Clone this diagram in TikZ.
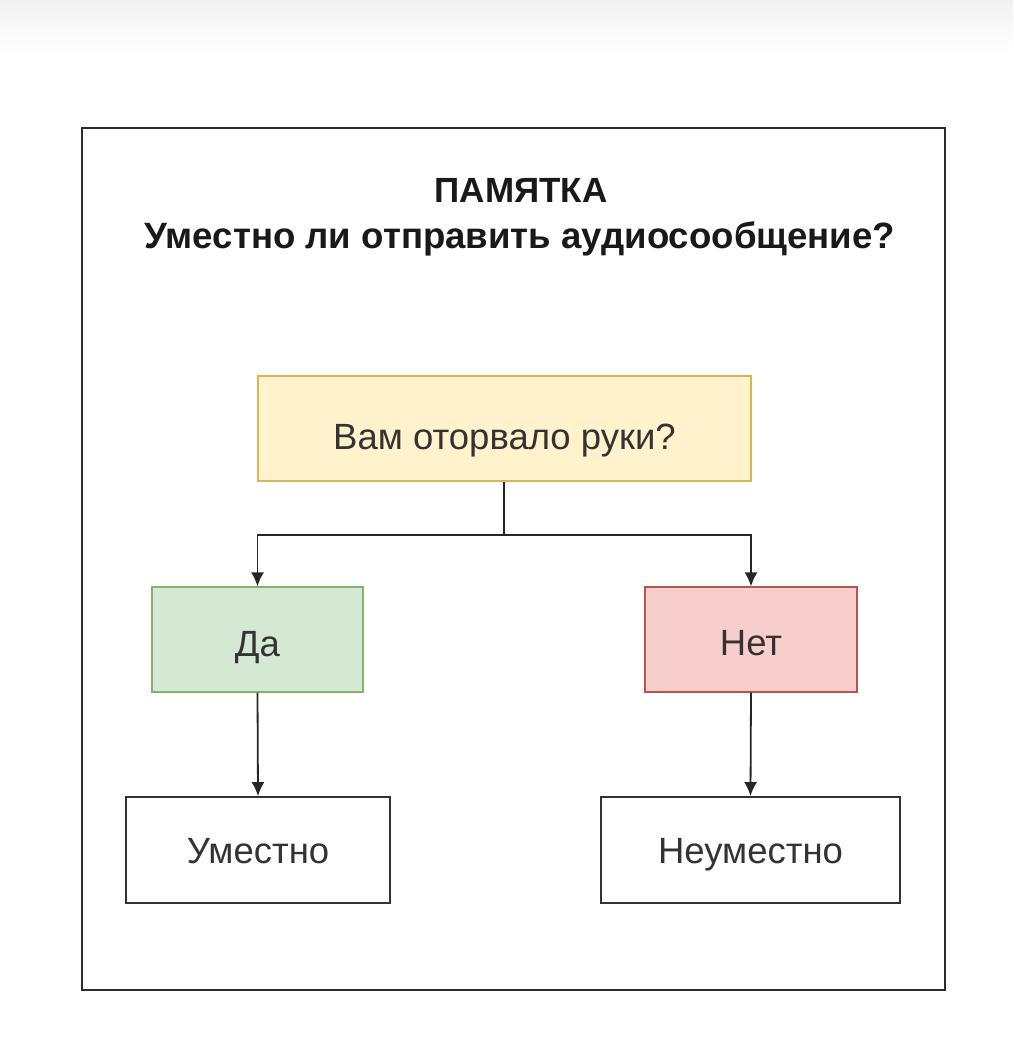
\documentclass[tikz,border=0pt]{standalone}
\usepackage{fontspec}
\setmainfont{Liberation Sans}
\usetikzlibrary{arrows.meta}
\definecolor{yfill}{HTML}{FFF2CC}
\definecolor{ydraw}{HTML}{D6B656}
\definecolor{gfill}{HTML}{D5E8D4}
\definecolor{gdraw}{HTML}{82B366}
\definecolor{rfill}{HTML}{F8CECC}
\definecolor{rdraw}{HTML}{B85450}
\definecolor{txt}{HTML}{333333}
\definecolor{frame}{HTML}{2B2B2B}
\tikzset{
  box/.style={rectangle, minimum height=105pt, inner sep=0pt, text=txt,
    font=\fontsize{36.5}{44}\selectfont, text height=26pt, text depth=0pt},
  ybox/.style={box, fill=yfill, draw=ydraw, line width=1.2pt, text height=42pt},
  gbox/.style={box, fill=gfill, draw=gdraw, line width=1.2pt, text height=34pt},
  rbox/.style={box, fill=rfill, draw=rdraw, line width=1.2pt, text height=32pt},
  wbox/.style={box, fill=white, draw=txt, line width=1.8pt},
  conn/.style={draw=black!85, line width=1.8pt},
  arr/.style={conn, -{Latex[length=14pt,width=13pt]}},
  titl/.style={font=\bfseries\fontsize{35}{42}\selectfont, text=black!90, inner sep=0pt,
    text height=25pt, text depth=0pt}
}
\begin{document}
\begin{tikzpicture}[x=1pt,y=-1pt]
\useasboundingbox (0,0) rectangle (1013,1052);
\fill[white] (0,0) rectangle (1013,1052);
\shade[top color=black!5, bottom color=white] (0,0) rectangle (1013,55);
\draw[frame, line width=2pt] (82,128) rectangle (945,990);
\node[titl] (t1) at (521,190) {ПАМЯТКА};
\node[titl, font=\bfseries\fontsize{36.6}{44}\selectfont, text height=26pt] (t2) at (520,235) {Уместно ли отправить аудиосообщение?};
\node[ybox, minimum width=493pt] (q) at (504.5,428.5) {Вам оторвало руки?};
\node[gbox, minimum width=211pt] (yes) at (257.5,639.5) {Да};
\node[rbox, minimum width=212pt] (no) at (751,639.5) {Нет};
\node[wbox, minimum width=264pt, minimum height=106pt] (ok) at (258,850) {Уместно};
\node[wbox, minimum width=299pt, minimum height=106pt] (nok) at (750.5,850) {Неуместно};
\coordinate (j) at (504,535);
\draw[conn] (q.south -| j) -- (j);
\draw[arr] (j) -| (yes.north);
\draw[arr] (j) -| (no.north);
\draw[arr] (yes.south) -- (ok.north);
\draw[arr] (no.south) -- (nok.north);
\end{tikzpicture}
\end{document}
